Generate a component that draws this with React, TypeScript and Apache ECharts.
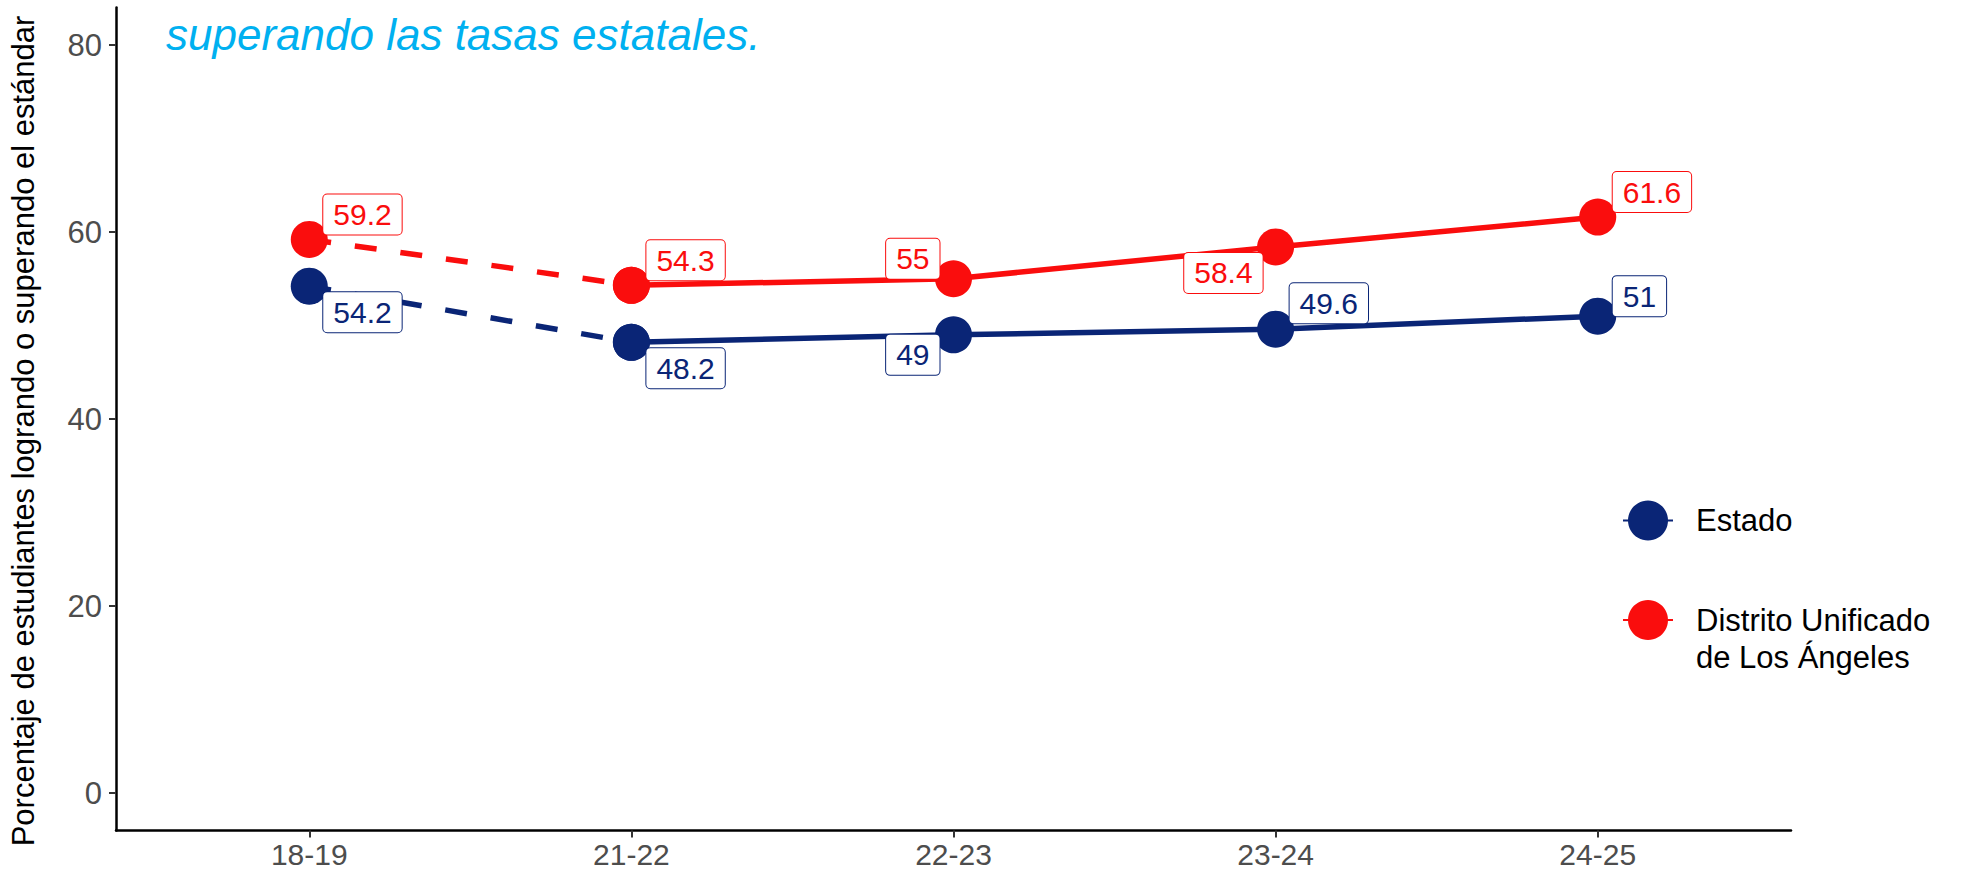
import React, { useEffect, useRef } from "react";
import * as echarts from "echarts";

// ---- Data ----
const categories = ["18-19", "21-22", "22-23", "23-24", "24-25"];
const estadoValues = [54.2, 48.2, 49, 49.6, 51];
const lausdValues = [59.2, 54.3, 55, 58.4, 61.6];
const yTickValues = [0, 20, 40, 60, 80];
const estadoName = "Estado";
const lausdName = "Distrito Unificado de Los Ángeles";
const lausdLegendLines = ["Distrito Unificado", "de Los Ángeles"];
const titleText = "superando las tasas estatales.";
const yAxisTitle = "Porcentaje de estudiantes logrando o superando el estándar";

// ---- Styling (label placement: align, verticalAlign, dx, dy) ----
const estadoLabelPlacement: [string, string, number, number][] = [
  ["left", "top", 14, 6],
  ["left", "top", 15, 6],
  ["right", "top", -14, 0],
  ["left", "bottom", 14, -6],
  ["left", "bottom", 15, 0],
];
const lausdLabelPlacement: [string, string, number, number][] = [
  ["left", "bottom", 14, -5],
  ["left", "bottom", 15, -5],
  ["right", "bottom", -14, 0],
  ["right", "top", -13, 6],
  ["left", "bottom", 15, -5],
];

const NAVY = "#0a2576";
const RED = "#fa0d0d";
const FONT = "'Liberation Sans', Arial, Helvetica, sans-serif";
const LINE_W = 5.5;

function labelFor(color: string, p: [string, string, number, number]) {
  return {
    show: true,
    position: "inside",
    align: p[0],
    verticalAlign: p[1],
    offset: [p[2], p[3]],
    formatter: (d: any) => String(d.value[1]),
    color,
    fontFamily: FONT,
    fontSize: 30,
    lineHeight: 30,
    backgroundColor: "#ffffff",
    borderColor: color,
    borderWidth: 1,
    borderRadius: 4,
    padding: [5, 10, 5, 10],
  };
}

function buildSeries(
  name: string,
  values: number[],
  color: string,
  placement: [string, string, number, number][]
) {
  const common = {
    type: "line",
    symbol: "circle",
    symbolSize: 37,
    itemStyle: { color },
    z: 3,
  };
  const dashed = {
    ...common,
    name: name + " (18-19 a 21-22)",
    lineStyle: { color, width: LINE_W, type: [22, 24] },
    data: [0, 1].map((i) => ({
      value: [i, values[i]],
      label: i === 0 ? labelFor(color, placement[i]) : { show: false },
    })),
  };
  const solid = {
    ...common,
    name,
    lineStyle: { color, width: LINE_W, type: "solid" },
    data: [1, 2, 3, 4].map((i) => ({
      value: [i, values[i]],
      label: labelFor(color, placement[i]),
    })),
  };
  return [dashed, solid];
}

export default function App() {
  const ref = useRef<HTMLDivElement>(null);

  useEffect(() => {
    if (!ref.current) return;
    const chart = echarts.init(ref.current, undefined, { renderer: "svg" });
    const catIdx = categories.map((_, i) => i);

    const option: any = {
      animation: false,
      backgroundColor: "#ffffff",
      textStyle: { fontFamily: FONT },
      grid: { left: 116, right: 170, top: 7.6, bottom: 41.6, containLabel: false },
      xAxis: {
        type: "value",
        min: -0.6,
        max: 4.6,
        splitLine: { show: false },
        axisLine: { show: true, onZero: false, lineStyle: { color: "#000000", width: 2.5 } },
        axisTick: { show: true, customValues: catIdx, length: 7, lineStyle: { color: "#333333", width: 2 } },
        axisLabel: {
          customValues: catIdx,
          formatter: (v: number) => categories[Math.round(v)] ?? "",
          color: "#4d4d4d",
          fontSize: 30,
          fontFamily: FONT,
          margin: 9,
        },
      },
      yAxis: {
        type: "value",
        min: -4,
        max: 84,
        splitLine: { show: false },
        name: yAxisTitle,
        nameLocation: "middle",
        nameRotate: 90,
        nameGap: 77,
        nameTextStyle: {
          color: "#000000",
          fontSize: 31,
          fontFamily: FONT,
          padding: [0, 24, 0, 0],
        },
        axisLine: { show: true, onZero: false, lineStyle: { color: "#000000", width: 2.5 } },
        axisTick: { show: true, customValues: yTickValues, length: 7, lineStyle: { color: "#333333", width: 2 } },
        axisLabel: {
          customValues: yTickValues,
          color: "#4d4d4d",
          fontSize: 31,
          fontFamily: FONT,
          margin: 14,
        },
      },
      legend: [
        {
          data: [estadoName],
          orient: "vertical",
          left: 1622,
          top: 500.5,
          padding: 0,
          itemWidth: 50,
          itemHeight: 50,
          selectedMode: false,
          textStyle: {
            color: "#000000",
            fontSize: 31,
            fontFamily: FONT,
            padding: [0, 0, 0, 18],
          },
        },
        {
          data: [lausdName],
          orient: "vertical",
          left: 1622,
          top: 564.5,
          padding: 0,
          itemWidth: 50,
          itemHeight: 50,
          selectedMode: false,
          formatter: () => "\u00a0\n" + lausdLegendLines.join("\n"),
          textStyle: {
            color: "#000000",
            fontSize: 31,
            lineHeight: 37,
            fontFamily: FONT,
            padding: [0, 0, 0, 18],
            backgroundColor: "rgba(255,255,255,0)",
          },
        },
      ],
      graphic: [
        {
          type: "text",
          left: 166,
          top: 12,
          style: {
            text: titleText,
            fill: "#00b0f0",
            font: `italic 44px ${FONT}`,
          },
        },
      ],
      series: [
        ...buildSeries(estadoName, estadoValues, NAVY, estadoLabelPlacement),
        ...buildSeries(lausdName, lausdValues, RED, lausdLabelPlacement),
      ],
    };

    chart.setOption(option);
    return () => chart.dispose();
  }, []);

  return (
    <div
      ref={ref}
      style={{ position: "fixed", left: 0, top: 0, width: 1961, height: 872, background: "#fff" }}
    />
  );
}
